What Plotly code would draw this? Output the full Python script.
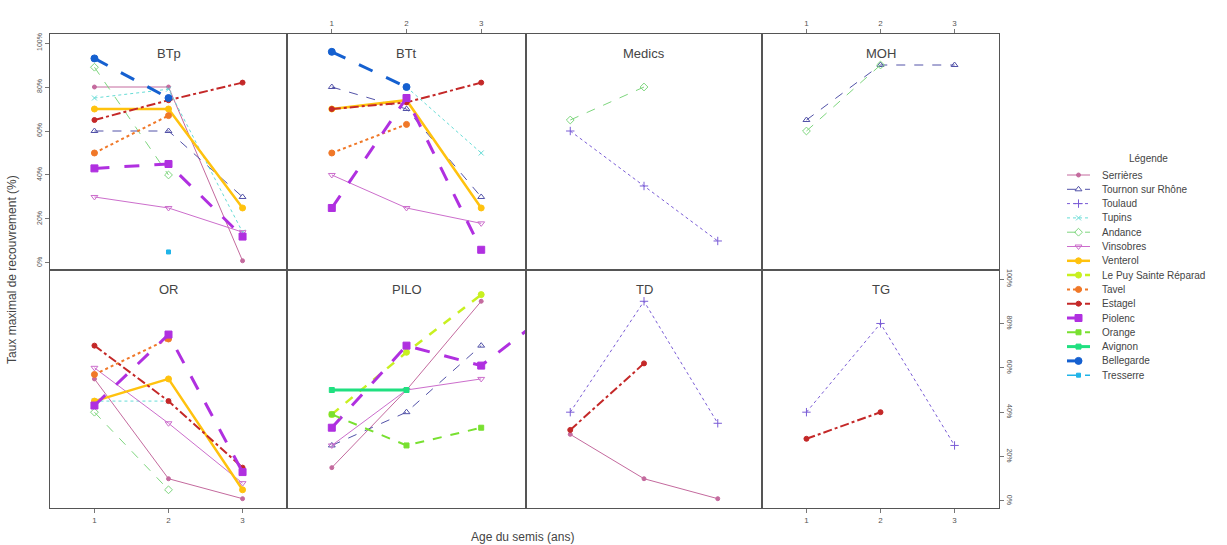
import plotly.graph_objects as go

# ---------------- data ----------------
ages = [1, 2, 3, 4]
panels = ["BTp", "BTt", "Medics", "MOH", "OR", "PILO", "TD", "TG"]
sites = ["Serrières", "Tournon sur Rhône", "Toulaud", "Tupins", "Andance", "Vinsobres",
         "Venterol", "Le Puy Sainte Réparad", "Tavel", "Estagel", "Piolenc", "Orange",
         "Avignon", "Bellegarde", "Tresserre"]

btp = {"Serrières": [80, 80, 1], "Tournon sur Rhône": [60, 60, 30], "Tupins": [75, 79, 14],
       "Andance": [89, 40, None], "Vinsobres": [30, 25, 14], "Venterol": [70, 70, 25],
       "Tavel": [50, 67, None], "Estagel": [65, 74, 82], "Piolenc": [43, 45, 12],
       "Bellegarde": [93, 75, None], "Tresserre": [None, 5, None]}
btt = {"Tournon sur Rhône": [80, 70, 30], "Tupins": [None, 80, 50], "Vinsobres": [40, 25, 18],
       "Venterol": [70, 74, 25], "Tavel": [50, 63, None], "Estagel": [70, 73, 82],
       "Piolenc": [25, 75, 6], "Bellegarde": [96, 80, None]}
medics = {"Toulaud": [60, 35, 10], "Andance": [65, 80, None]}
moh = {"Tournon sur Rhône": [65, 90, 90], "Andance": [60, 90, None]}
orr = {"Serrières": [55, 10, 1], "Tupins": [45, 45, None], "Andance": [40, 5, None],
       "Vinsobres": [60, 35, 8], "Venterol": [45, 55, 5], "Tavel": [57, 73, None],
       "Estagel": [70, 45, 15], "Piolenc": [43, 75, 13]}
pilo = {"Serrières": [15, 50, 90], "Tournon sur Rhône": [25, 40, 70], "Vinsobres": [25, 50, 55],
        "Le Puy Sainte Réparad": [39, 67, 93], "Piolenc": [33, 70, 61, 87],
        "Orange": [39, 25, 33], "Avignon": [50, 50, None]}
td = {"Serrières": [30, 10, 1], "Toulaud": [40, 90, 35], "Estagel": [32, 62, None]}
tg = {"Toulaud": [40, 80, 25], "Estagel": [28, 40, None]}

panel_data = [btp, btt, medics, moh, orr, pilo, td, tg]
y_ticks = [0, 20, 40, 60, 80, 100]
y_ticktext = ["0%", "20%", "40%", "60%", "80%", "100%"]
x_ticks = [1, 2, 3]

# ---------------- styles ----------------
style = {
    "Serrières":            dict(color="#C46A9E", dash="solid",    width=1.0, symbol="circle",             size=4),
    "Tournon sur Rhône":    dict(color="#5252A8", dash="dash",     width=1.0, symbol="triangle-up-open",   size=6),
    "Toulaud":              dict(color="#7A5CD6", dash="dot",      width=1.0, symbol="cross-thin-open",    size=6),
    "Tupins":               dict(color="#66DCD6", dash="dot",      width=1.0, symbol="x-thin-open",        size=5),
    "Andance":              dict(color="#7ED67E", dash="dash",     width=1.0, symbol="diamond-open",       size=6),
    "Vinsobres":            dict(color="#CC6ECC", dash="solid",    width=1.0, symbol="triangle-down-open", size=6),
    "Venterol":             dict(color="#FFC20E", dash="solid",    width=2.5, symbol="circle",             size=6),
    "Le Puy Sainte Réparad": dict(color="#C8F020", dash="dash",    width=2.5, symbol="circle",             size=6),
    "Tavel":                dict(color="#F07828", dash="dot",      width=2.0, symbol="circle",             size=6),
    "Estagel":              dict(color="#C42828", dash="dashdot",  width=2.0, symbol="circle",             size=5),
    "Piolenc":              dict(color="#B030E0", dash="longdash", width=3.0, symbol="square",             size=7),
    "Orange":               dict(color="#78E030", dash="dash",     width=2.0, symbol="square",             size=5),
    "Avignon":              dict(color="#20E080", dash="solid",    width=3.0, symbol="square",             size=5),
    "Bellegarde":           dict(color="#1560D0", dash="longdash", width=3.0, symbol="circle",             size=7),
    "Tresserre":            dict(color="#20B4E8", dash="dash",     width=1.5, symbol="square",             size=4),
}

W, H = 1227, 545
col_px = [(50, 287), (287, 526), (526, 762), (762, 999)]
row_px = [(34, 270), (270, 508)]

fig = go.Figure()

layout = dict(
    width=W, height=H, margin=dict(l=0, r=0, t=0, b=0),
    paper_bgcolor="white", plot_bgcolor="white",
    font=dict(family="Liberation Sans, Arial, sans-serif", color="#444"),
    showlegend=False,
)

annotations = []
for i, (pname, pdata) in enumerate(zip(panels, panel_data)):
    r, c = divmod(i, 4)
    k = i + 1
    xs = "" if k == 1 else str(k)
    x0, x1 = col_px[c]
    yt, yb = row_px[r]
    xdom = [x0 / W, x1 / W]
    ydom = [1 - yb / H, 1 - yt / H]

    xa = dict(domain=xdom, anchor="y" + xs, range=[0.4, 3.6], showgrid=False, zeroline=False,
              showline=True, linecolor="#555", linewidth=1, mirror=True, fixedrange=True,
              tickvals=x_ticks, ticktext=[str(v) for v in x_ticks],
              tickfont=dict(size=8, color="#555"), ticklen=4, tickcolor="#777")
    if r == 0 and c in (1, 3):
        xa.update(side="top", ticks="outside", showticklabels=True)
    elif r == 1 and c in (0, 3):
        xa.update(side="bottom", ticks="outside", showticklabels=True)
    else:
        xa.update(ticks="", showticklabels=False)

    ya = dict(domain=ydom, anchor="x" + xs, range=[-3.2, 104.1], showgrid=False, zeroline=False,
              showline=True, linecolor="#555", linewidth=1, mirror=True, fixedrange=True,
              tickvals=y_ticks, ticktext=y_ticktext,
              tickfont=dict(size=7, color="#555"), ticklen=4, tickcolor="#777")
    if r == 0 and c == 0:
        ya.update(side="left", ticks="outside", showticklabels=True, tickangle=-90)
    elif r == 1 and c == 3:
        ya.update(side="right", ticks="outside", showticklabels=True, tickangle=90)
    else:
        ya.update(ticks="", showticklabels=False)

    layout["xaxis" + xs] = xa
    layout["yaxis" + xs] = ya

    for s in sites:
        if s not in pdata:
            continue
        vals = pdata[s]
        st = style[s]
        fig.add_trace(go.Scatter(
            x=ages[:len(vals)], y=vals, mode="lines+markers", name=s,
            connectgaps=False,
            line=dict(color=st["color"], dash=st["dash"], width=st["width"]),
            marker=dict(color=st["color"], symbol=st["symbol"], size=st["size"],
                        line=dict(color=st["color"], width=1)),
            xaxis="x" + xs, yaxis="y" + xs, cliponaxis=True))

    annotations.append(dict(text=pname, x=0.5, y=1 - 19 / 236, xref="x" + xs + " domain",
                            yref="y" + xs + " domain", showarrow=False,
                            font=dict(size=13, color="#444"), xanchor="center", yanchor="middle"))

# ---------------- key (lattice-style legend) ----------------
key_x0, key_x1 = 1050, W
layout["xaxis9"] = dict(domain=[key_x0 / W, 1], range=[key_x0, key_x1], visible=False,
                        fixedrange=True, anchor="y9")
layout["yaxis9"] = dict(domain=[0, 1], range=[H, 0], visible=False, fixedrange=True, anchor="x9")
key_top, key_step = 175, 14.3
for j, s in enumerate(sites):
    st = style[s]
    yy = key_top + j * key_step
    fig.add_trace(go.Scatter(
        x=[1067, 1090], y=[yy, yy], mode="lines", hoverinfo="skip",
        line=dict(color=st["color"], dash=st["dash"], width=st["width"]),
        xaxis="x9", yaxis="y9"))
    fig.add_trace(go.Scatter(
        x=[1078.5], y=[yy], mode="markers", hoverinfo="skip",
        marker=dict(color=st["color"], symbol=st["symbol"], size=st["size"],
                    line=dict(color=st["color"], width=1)),
        xaxis="x9", yaxis="y9"))
    annotations.append(dict(text=s, x=1100, y=yy, xref="x9", yref="y9", showarrow=False,
                            font=dict(size=10, color="#444"), xanchor="left", yanchor="middle"))
annotations.append(dict(text="Légende", x=1148, y=158, xref="x9", yref="y9", showarrow=False,
                        font=dict(size=10, color="#444"), xanchor="center", yanchor="middle"))

annotations.append(dict(text="Taux maximal de recouvrement (%)", x=12 / W, y=1 - 270 / H,
                        xref="paper", yref="paper", showarrow=False, textangle=-90,
                        font=dict(size=12, color="#444"), xanchor="center", yanchor="middle"))
annotations.append(dict(text="Age du semis (ans)", x=522 / W, y=1 - 537 / H,
                        xref="paper", yref="paper", showarrow=False,
                        font=dict(size=12, color="#444"), xanchor="center", yanchor="middle"))
layout["annotations"] = annotations

fig.update_layout(**layout)
fig.write_html("out.html", config={"displayModeBar": False},
               post_script="document.body.style.margin='0';")
